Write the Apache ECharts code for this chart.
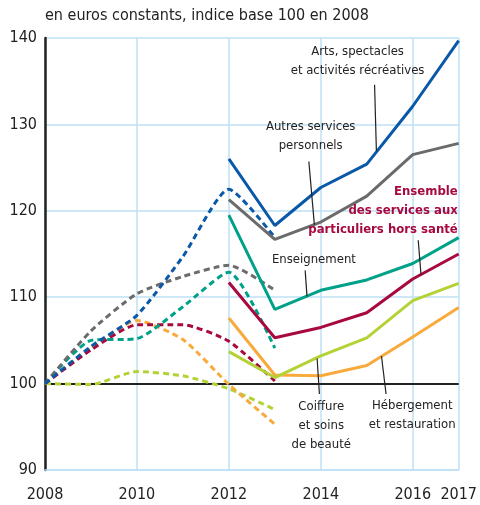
<!DOCTYPE html>
<html>
<head>
<meta charset="utf-8">
<script src="https://cdn.jsdelivr.net/npm/echarts@6/dist/echarts.min.js"></script>
<style>
  html, body { margin: 0; padding: 0; background: #fff; }
  #main { width: 480px; height: 505px; }
</style>
</head>
<body>
<div id="main"></div>
<script>
var FONT = "'Liberation Sans Narrow', 'DejaVu Sans Condensed', sans-serif";

// years
var yearsOld = [2008, 2009, 2010, 2011, 2012, 2013];
var yearsNew = [2012, 2013, 2014, 2015, 2016, 2017];

// dashed series (2008-2013)
var artsOld       = [100, 104.3, 107.9, 114.7, 122.5, 116.9];
var autresOld     = [100, 106.1, 110.4, 112.4, 113.7, 110.8];
var enseigOld     = [100, 105.0, 105.2, 108.9, 112.9, 104.1];
var ensembleOld   = [100, 103.9, 106.8, 106.8, 104.9, 100.3];
var hebergOld     = [100, 104.1, 107.3, 105.1, 99.9, 95.3];
var coiffureOld   = [100, 99.9, 101.4, 100.9, 99.4, 97.0];

// solid series (2012-2017)
var artsNew       = [126.0, 118.3, 122.7, 125.4, 132.1, 139.7];
var autresNew     = [121.3, 116.7, 118.7, 121.7, 126.5, 127.8];
var enseigNew     = [119.5, 108.6, 110.8, 112.0, 113.9, 116.9];
var ensembleNew   = [111.7, 105.3, 106.5, 108.2, 112.1, 115.0];
var coiffureNew   = [103.7, 100.7, 103.2, 105.3, 109.6, 111.6];
var hebergNew     = [107.6, 101.0, 100.9, 102.1, 105.4, 108.8];

var colors = {
  arts: '#0a58a8',
  autres: '#6b6b6b',
  enseig: '#00a189',
  ensemble: '#a8093f',
  coiffure: '#b3d236',
  heberg: '#f8aa3c'
};

var subtitle = 'en euros constants, indice base 100 en 2008';

// annotations, in data units
var notes = [
  { text: 'Arts, spectacles\net activités récréatives', at: [2014.8, 137.3], align: 'center', from: [2015.17, 134.6], to: [2015.21, 126.9] },
  { text: 'Autres services\npersonnels', at: [2013.78, 128.6], align: 'center', from: [2013.74, 125.7], to: [2013.86, 118.4] },
  { text: 'Enseignement', at: [2013.85, 114.35], align: 'center', from: [2013.66, 113.1], to: [2013.70, 110.1] },
  { text: 'Ensemble\ndes services aux\nparticuliers hors santé', at: [2016.98, 120.0], align: 'right', bold: true, color: colors.ensemble, from: [2016.12, 116.6], to: [2016.18, 112.6] },
  { text: 'Coiffure\net soins\nde beauté', at: [2014.01, 95.1], align: 'center', from: [2013.97, 98.8], to: [2013.92, 102.9] },
  { text: 'Hébergement\net restauration', at: [2015.99, 96.4], align: 'center', from: [2015.42, 98.8], to: [2015.32, 103.2] }
];

function pairs(xs, ys) {
  return xs.map(function (x, i) { return [x, ys[i]]; });
}

function dashed(color, ys) {
  return {
    type: 'line', data: pairs(yearsOld, ys), smooth: 0.2, symbol: 'none',
    lineStyle: { color: color, width: 3, type: [6, 4] }, z: 3
  };
}
function solid(color, ys) {
  return {
    type: 'line', data: pairs(yearsNew, ys), symbol: 'none',
    lineStyle: { color: color, width: 3 }, z: 4
  };
}

var chart = echarts.init(document.getElementById('main'));

var series = [
  dashed(colors.coiffure, coiffureOld),
  dashed(colors.heberg, hebergOld),
  dashed(colors.ensemble, ensembleOld),
  dashed(colors.enseig, enseigOld),
  dashed(colors.autres, autresOld),
  dashed(colors.arts, artsOld),
  solid(colors.heberg, hebergNew),
  solid(colors.coiffure, coiffureNew),
  solid(colors.ensemble, ensembleNew),
  solid(colors.enseig, enseigNew),
  solid(colors.autres, autresNew),
  solid(colors.arts, artsNew)
];
// base 100 line
series[0].markLine = {
  silent: true, symbol: 'none', label: { show: false },
  lineStyle: { color: '#222', width: 2, type: 'solid' },
  data: [{ yAxis: 100 }], z: 2
};

chart.setOption({
  animation: false,
  textStyle: { fontFamily: FONT },
  grid: { left: 45, right: 18, top: 38, bottom: 35 },
  xAxis: {
    type: 'value', min: 2008, max: 2017, interval: 2,
    axisLine: { show: true, lineStyle: { color: '#bfe0f5', width: 1.5 } },
    axisTick: { show: false },
    splitLine: { show: true, lineStyle: { color: '#bfe0f5', width: 1.5 } },
    axisLabel: { color: '#222', fontSize: 16, fontFamily: FONT, margin: 17,
      showMinLabel: true, showMaxLabel: true,
      formatter: function (v) { return String(v); } }
  },
  yAxis: {
    type: 'value', min: 90, max: 140, interval: 10,
    axisLine: { show: true, lineStyle: { color: '#222', width: 2.5 } },
    axisTick: { show: false },
    splitLine: { show: true, lineStyle: { color: '#bfe0f5', width: 1.5 } },
    axisLabel: { color: '#222', fontSize: 16, fontFamily: FONT, margin: 8 }
  },
  series: series
});

var graphics = [{
  type: 'text', left: 45, top: 8,
  style: { text: subtitle, fill: '#222', font: '16px ' + FONT }
}];
notes.forEach(function (n) {
  var p = chart.convertToPixel({ gridIndex: 0 }, n.at);
  var a = chart.convertToPixel({ gridIndex: 0 }, n.from);
  var b = chart.convertToPixel({ gridIndex: 0 }, n.to);
  graphics.push({
    type: 'line', silent: true, z: 10,
    shape: { x1: a[0], y1: a[1], x2: b[0], y2: b[1] },
    style: { stroke: '#222', lineWidth: 1.2 }
  });
  graphics.push({
    type: 'text', silent: true, z: 10, x: p[0], y: p[1],
    style: {
      text: n.text, fill: n.color || '#222',
      font: (n.bold ? 'bold ' : '') + '13px ' + FONT,
      align: n.align, verticalAlign: 'middle', lineHeight: 19
    }
  });
});
chart.setOption({ graphic: graphics });
</script>
</body>
</html>
